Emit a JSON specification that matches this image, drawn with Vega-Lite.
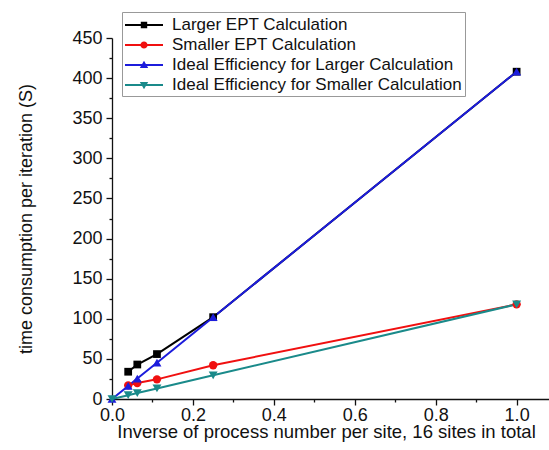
{
  "$schema": "https://vega.github.io/schema/vega-lite/v6.json",
  "width": 437,
  "height": 361,
  "autosize": "none",
  "padding": {"left": 112, "top": 38, "right": 0, "bottom": 51},
  "background": "white",
  "config": {
    "view": {"stroke": null},
    "font": "Liberation Sans",
    "axis": {
      "domainColor": "#111",
      "domainWidth": 1.3,
      "tickColor": "#111",
      "tickWidth": 1.3,
      "labelFont": "Liberation Sans",
      "labelFontSize": 18,
      "labelColor": "#111",
      "titleFont": "Liberation Sans",
      "titleFontSize": 18,
      "titleFontWeight": "normal",
      "titleColor": "#111",
      "grid": false,
      "labelOverlap": false,
      "labelFlush": false
    },
    "legend": {
      "title": null,
      "labelFont": "Liberation Sans",
      "labelFontSize": 17,
      "labelColor": "#111",
      "symbolSize": 400,
      "symbolOffset": 9,
      "labelOffset": 18,
      "symbolStrokeWidth": 0,
      "padding": 3,
      "rowPadding": 2,
      "strokeColor": "#999",
      "fillColor": "white",
      "labelLimit": 400
    }
  },
  "data": {
    "values": [
      {"series": "Larger EPT Calculation", "x": 0.04, "y": 34},
      {"series": "Larger EPT Calculation", "x": 0.0625, "y": 43},
      {"series": "Larger EPT Calculation", "x": 0.1111, "y": 56},
      {"series": "Larger EPT Calculation", "x": 0.25, "y": 102},
      {"series": "Larger EPT Calculation", "x": 1.0, "y": 408},
      {"series": "Smaller EPT Calculation", "x": 0.04, "y": 17},
      {"series": "Smaller EPT Calculation", "x": 0.0625, "y": 20},
      {"series": "Smaller EPT Calculation", "x": 0.1111, "y": 24.5},
      {"series": "Smaller EPT Calculation", "x": 0.25, "y": 42},
      {"series": "Smaller EPT Calculation", "x": 1.0, "y": 118},
      {"series": "Ideal Efficiency for Larger Calculation", "x": 0, "y": 0},
      {"series": "Ideal Efficiency for Larger Calculation", "x": 0.04, "y": 16.3},
      {"series": "Ideal Efficiency for Larger Calculation", "x": 0.0625, "y": 25.5},
      {"series": "Ideal Efficiency for Larger Calculation", "x": 0.1111, "y": 45.3},
      {"series": "Ideal Efficiency for Larger Calculation", "x": 0.25, "y": 102},
      {"series": "Ideal Efficiency for Larger Calculation", "x": 1.0, "y": 408},
      {"series": "Ideal Efficiency for Smaller Calculation", "x": 0, "y": 0},
      {"series": "Ideal Efficiency for Smaller Calculation", "x": 0.04, "y": 4.7},
      {"series": "Ideal Efficiency for Smaller Calculation", "x": 0.0625, "y": 7.4},
      {"series": "Ideal Efficiency for Smaller Calculation", "x": 0.1111, "y": 13.1},
      {"series": "Ideal Efficiency for Smaller Calculation", "x": 0.25, "y": 29.5},
      {"series": "Ideal Efficiency for Smaller Calculation", "x": 1.0, "y": 118}
    ]
  },
  "encoding": {
    "x": {
      "field": "x",
      "type": "quantitative",
      "scale": {"domain": [0, 1.08], "nice": false, "zero": false},
      "axis": {
        "title": "Inverse of process number per site, 16 sites in total",
        "values": [0, 0.1, 0.2, 0.3, 0.4, 0.5, 0.6, 0.7, 0.8, 0.9, 1.0],
        "labelExpr": "round(datum.value*10) % 2 === 0 ? format(datum.value, '.1f') : ''",
        "tickSize": {"condition": {"test": "round(datum.value*10) % 2 !== 0", "value": 3}, "value": 6},
        "labelPadding": 1,
        "titlePadding": -2,
        "titleFontSize": 18.5,
        "titleX": 214,
        "titleAlign": "center"
      }
    },
    "y": {
      "field": "y",
      "type": "quantitative",
      "scale": {"domain": [0, 450], "nice": false},
      "axis": {
        "title": "time consumption per iteration (S)",
        "values": [0, 25, 50, 75, 100, 125, 150, 175, 200, 225, 250, 275, 300, 325, 350, 375, 400, 425, 450],
        "labelExpr": "datum.value % 50 === 0 ? datum.label : ''",
        "tickSize": {"condition": {"test": "datum.value % 50 !== 0", "value": 3}, "value": 6},
        "labelPadding": 4,
        "titlePadding": 36
      }
    },
    "color": {
      "field": "series",
      "type": "nominal",
      "scale": {
        "domain": ["Larger EPT Calculation", "Smaller EPT Calculation", "Ideal Efficiency for Larger Calculation", "Ideal Efficiency for Smaller Calculation"],
        "range": ["#000000", "#f01010", "#1c1cdc", "#1a8a8a"]
      }
    }
  },
  "layer": [
    {
      "mark": {"type": "line", "strokeWidth": 2}
    },
    {
      "transform": [{"filter": "datum.series === 'Larger EPT Calculation'"}],
      "mark": {"type": "point", "shape": "square", "filled": true, "size": 60, "opacity": 1}
    },
    {
      "transform": [{"filter": "datum.series === 'Smaller EPT Calculation'"}],
      "mark": {"type": "point", "shape": "circle", "filled": true, "size": 70, "opacity": 1}
    },
    {
      "transform": [{"filter": "datum.series === 'Ideal Efficiency for Larger Calculation'"}],
      "mark": {"type": "point", "shape": "triangle-up", "filled": true, "size": 80, "opacity": 1}
    },
    {
      "transform": [{"filter": "datum.series === 'Ideal Efficiency for Smaller Calculation'"}],
      "mark": {"type": "point", "shape": "triangle-down", "filled": true, "size": 80, "opacity": 1}
    },
    {
      "mark": {"type": "point", "filled": true, "fillOpacity": 0, "strokeOpacity": 0},
      "encoding": {
        "shape": {
          "field": "series",
          "type": "nominal",
          "scale": {
            "domain": ["Larger EPT Calculation", "Smaller EPT Calculation", "Ideal Efficiency for Larger Calculation", "Ideal Efficiency for Smaller Calculation"],
            "range": [
              "M-1.9,-0.1H1.9V0.1H-1.9ZM-0.32,-0.32H0.32V0.32H-0.32Z",
              "M-1.9,-0.1H1.9V0.1H-1.9ZM-0.36,0A0.36,0.36 0 1,1 0.36,0A0.36,0.36 0 1,1 -0.36,0Z",
              "M-1.9,-0.1H1.9V0.1H-1.9ZM0,-0.42L0.42,0.3H-0.42Z",
              "M-1.9,-0.1H1.9V0.1H-1.9ZM0,0.42L-0.42,-0.3H0.42Z"
            ]
          },
          "legend": {
            "title": null,
            "orient": "none",
            "legendX": 10,
            "legendY": -26,
            "encode": {
              "symbols": {
                "update": {
                  "fill": {"scale": "color", "field": "value"},
                  "fillOpacity": {"value": 1},
                  "opacity": {"value": 1},
                  "strokeOpacity": {"value": 0}
                }
              }
            }
          }
        }
      }
    }
  ]
}
